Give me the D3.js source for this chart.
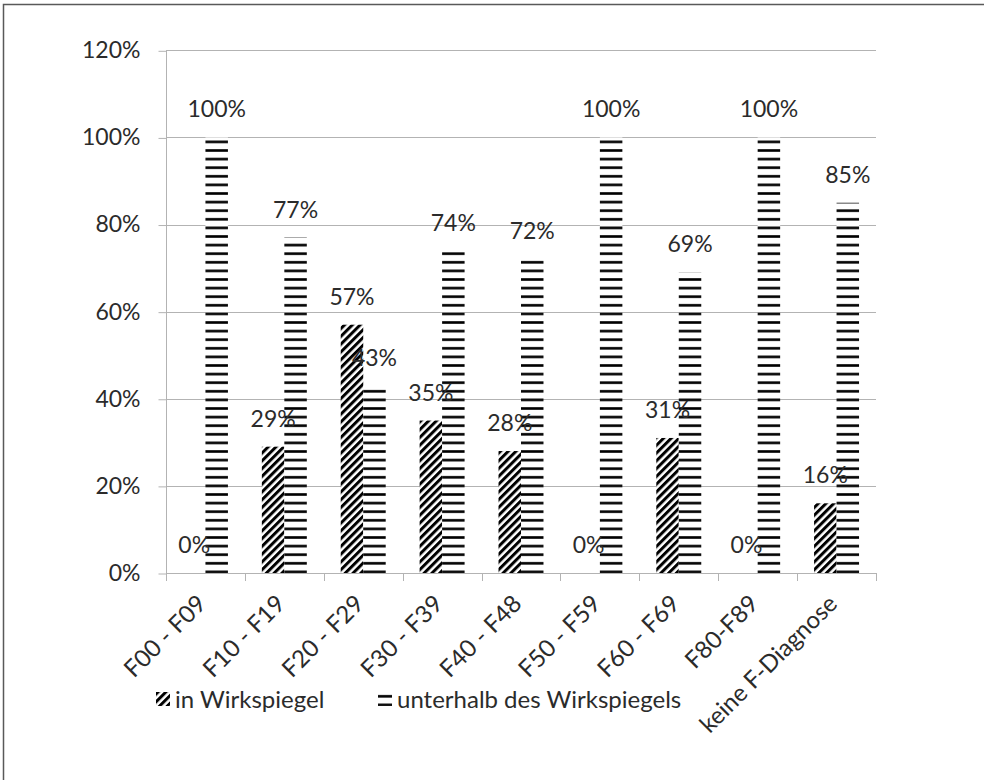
<!DOCTYPE html>
<html>
<head>
<meta charset="utf-8">
<script src="https://cdn.jsdelivr.net/npm/d3@7/dist/d3.min.js"></script>
<style>
  body { margin: 0; background: #fff; }
  svg { display: block; font-family: Lato, "Open Sans", sans-serif; }
</style>
</head>
<body>
<div id="chart"></div>
<script>
const categories = ["F00 - F09", "F10 - F19", "F20 - F29", "F30 - F39", "F40 - F48", "F50 - F59", "F60 - F69", "F80-F89", "keine F-Diagnose"];
const inWirkspiegel = [0, 29, 57, 35, 28, 0, 31, 0, 16];
const unterhalb = [100, 77, 43, 74, 72, 100, 69, 100, 85];
const seriesNames = ["in Wirkspiegel", "unterhalb des Wirkspiegels"];
const yTicks = [0, 20, 40, 60, 80, 100, 120];

const width = 984, height = 780;
const plotLeft = 166, plotRight = 876, plotTop = 50.3, plotBottom = 573;
const textColor = "#2b2b2b";
const numSize = 23;   // digits
const textSize = 24;  // words

const svg = d3.select("#chart").append("svg")
  .attr("width", width)
  .attr("height", height);

// patterns
const defs = svg.append("defs");
const diag = defs.append("pattern")
  .attr("id", "diag")
  .attr("patternUnits", "userSpaceOnUse")
  .attr("width", 5.5).attr("height", 5.5)
  .attr("patternTransform", "rotate(45)");
diag.append("rect").attr("width", 5.5).attr("height", 5.5).attr("fill", "#fff");
diag.append("rect").attr("width", 3).attr("height", 5.5).attr("fill", "#000");

const horiz = defs.append("pattern")
  .attr("id", "horiz")
  .attr("patternUnits", "userSpaceOnUse")
  .attr("width", 10).attr("height", 8.6);
horiz.append("rect").attr("width", 10).attr("height", 8.6).attr("fill", "#fff");
horiz.append("rect").attr("y", 3).attr("width", 10).attr("height", 2.6).attr("fill", "#000");

const fills = ["url(#diag)", "url(#horiz)"];

// outer frame
svg.append("rect")
  .attr("x", 3.5).attr("y", 4.5)
  .attr("width", width + 20).attr("height", height + 20)
  .attr("fill", "none")
  .attr("stroke", "#595959")
  .attr("stroke-width", 1.5);

const x = d3.scaleBand()
  .domain(categories)
  .range([plotLeft, plotRight])
  .paddingInner(0.43)
  .paddingOuter(0.215);

const xs = d3.scaleBand()
  .domain([0, 1])
  .range([0, x.bandwidth()]);

const y = d3.scaleLinear()
  .domain([0, 120])
  .range([plotBottom, plotTop]);

// gridlines
svg.append("g")
  .selectAll("line")
  .data(yTicks.filter(d => d > 0))
  .enter()
  .append("line")
  .attr("x1", plotLeft).attr("x2", plotRight)
  .attr("y1", d => Math.round(y(d)) + 0.5)
  .attr("y2", d => Math.round(y(d)) + 0.5)
  .attr("stroke", "#b3b3b3");

// y axis
const yAxis = svg.append("g")
  .attr("transform", "translate(" + (plotLeft + 0.5) + ",0)")
  .call(d3.axisLeft(y).tickValues(yTicks).tickFormat(d => d + "%").tickSize(8).tickPadding(18));
yAxis.select(".domain").attr("stroke", "#b3b3b3").attr("d", "M0," + plotTop + "V" + plotBottom);
yAxis.selectAll(".tick line").attr("stroke", "#b3b3b3")
  .attr("transform", "translate(0,0.5)");
yAxis.selectAll(".tick text")
  .attr("fill", textColor)
  .style("font-size", numSize + "px")
  .style("font-family", "Lato, sans-serif");

// bars
const series = [inWirkspiegel, unterhalb];
const groups = svg.append("g")
  .selectAll("g")
  .data(categories)
  .enter()
  .append("g")
  .attr("transform", d => "translate(" + x(d) + ",0)");

groups.selectAll("rect")
  .data((d, i) => series.map((s, k) => ({ k: k, v: s[i] })))
  .enter()
  .append("rect")
  .attr("x", d => xs(d.k))
  .attr("width", xs.bandwidth())
  .attr("y", d => y(d.v))
  .attr("height", d => plotBottom - y(d.v))
  .attr("fill", d => fills[d.k]);

// x axis line and ticks
const xAxisG = svg.append("g");
xAxisG.append("line")
  .attr("x1", plotLeft).attr("x2", plotRight)
  .attr("y1", plotBottom + 0.5).attr("y2", plotBottom + 0.5)
  .attr("stroke", "#b3b3b3");
const step = x.step();
xAxisG.selectAll(".xt")
  .data(d3.range(categories.length + 1))
  .enter()
  .append("line")
  .attr("class", "xt")
  .attr("x1", i => Math.round(plotLeft + i * step) + 0.5)
  .attr("x2", i => Math.round(plotLeft + i * step) + 0.5)
  .attr("y1", plotBottom)
  .attr("y2", plotBottom + 8)
  .attr("stroke", "#b3b3b3");

// value labels
groups.selectAll("text.val")
  .data((d, i) => series.map((s, k) => ({ k: k, v: s[i] })))
  .enter()
  .append("text")
  .attr("class", "val")
  .attr("x", d => xs(d.k) + xs.bandwidth() / 2)
  .attr("y", d => y(d.v) - 20)
  .attr("text-anchor", "middle")
  .attr("fill", textColor)
  .style("font-size", numSize + "px")
  .text(d => d.v + "%");

// category labels
svg.append("g")
  .selectAll("text")
  .data(categories)
  .enter()
  .append("text")
  .attr("transform", d => "translate(" + (x(d) + x.bandwidth() / 2 - 10) + "," + (plotBottom + 20) + ") rotate(-45)")
  .attr("text-anchor", "end")
  .attr("dy", "0.72em")
  .attr("fill", textColor)
  .style("font-size", textSize + "px")
  .text(d => d);

// legend
const legendItems = [
  { name: seriesNames[0], fill: fills[0], x: 156 },
  { name: seriesNames[1], fill: fills[1], x: 378 }
];
const legend = svg.append("g")
  .selectAll("g")
  .data(legendItems)
  .enter()
  .append("g")
  .attr("transform", d => "translate(" + d.x + ",692)");
legend.append("rect")
  .attr("width", 14).attr("height", 14)
  .attr("fill", d => d.fill);
legend.append("text")
  .attr("x", 19)
  .attr("y", 16)
  .attr("fill", textColor)
  .style("font-size", textSize + "px")
  .text(d => d.name);
</script>
</body>
</html>
